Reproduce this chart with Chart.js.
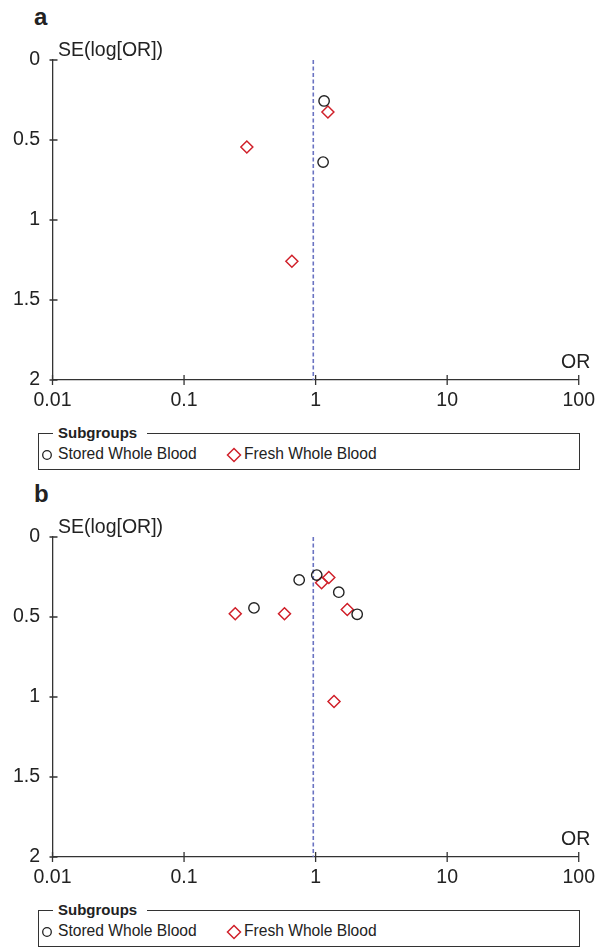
<!DOCTYPE html>
<html>
<head>
<meta charset="utf-8">
<script src="https://cdn.jsdelivr.net/npm/chart.js@4.4.1/dist/chart.umd.min.js"></script>
<style>
  html, body { margin: 0; padding: 0; background: #fff; }
  #wrap { position: relative; width: 604px; height: 948px; overflow: hidden; font-family: "Liberation Sans", Arial, sans-serif; color: #222; }
  canvas.cv { position: absolute; left: 0; }
  .plab { position: absolute; left: 34px; font-weight: bold; font-size: 24px; line-height: 24px; }
  .legend { position: absolute; left: 38px; width: 542px; height: 37px; border: 1.3px solid #333; box-sizing: border-box; }
  .legend .ttl { position: absolute; left: 14px; top: -10px; background: #fff; padding: 0 10px 0 5px; font-weight: bold; font-size: 15px; line-height: 18px; }
  .legend .item { position: absolute; top: 11px; font-size: 15.6px; line-height: 18px; white-space: nowrap; }
  .legend svg { position: absolute; }
</style>
</head>
<body>
<div id="wrap">
  <div class="plab" style="top:5px">a</div>
  <canvas id="cA" class="cv" width="604" height="420" style="top:0px"></canvas>
  <div class="legend" style="top:433px">
    <div class="ttl">Subgroups</div>
    <svg style="left:2px;top:15px" width="12" height="12"><circle cx="6" cy="6" r="4.3" fill="none" stroke="#222" stroke-width="1.3"/></svg>
    <div class="item" style="left:19px">Stored Whole Blood</div>
    <svg style="left:187px;top:13px" width="16" height="16"><polygon points="8,1.5 14.5,8 8,14.5 1.5,8" fill="none" stroke="#d0202a" stroke-width="1.5"/></svg>
    <div class="item" style="left:205px">Fresh Whole Blood</div>
  </div>
  <div class="plab" style="top:482px">b</div>
  <canvas id="cB" class="cv" width="604" height="420" style="top:477px"></canvas>
  <div class="legend" style="top:910px">
    <div class="ttl">Subgroups</div>
    <svg style="left:2px;top:15px" width="12" height="12"><circle cx="6" cy="6" r="4.3" fill="none" stroke="#222" stroke-width="1.3"/></svg>
    <div class="item" style="left:19px">Stored Whole Blood</div>
    <svg style="left:187px;top:13px" width="16" height="16"><polygon points="8,1.5 14.5,8 8,14.5 1.5,8" fill="none" stroke="#d0202a" stroke-width="1.5"/></svg>
    <div class="item" style="left:205px">Fresh Whole Blood</div>
  </div>
</div>
<script>
// ---- data ----
const xTicks = [0.01, 0.1, 1, 10, 100];
const yTicks = [0, 0.5, 1, 1.5, 2];
const seriesNames = ["Stored Whole Blood", "Fresh Whole Blood"];

// panel a
const orA_stored = [1.16, 1.14];
const seA_stored = [0.256, 0.638];
const orA_fresh  = [1.24, 0.30, 0.66];
const seA_fresh  = [0.325, 0.544, 1.258];
const pooledA = 0.96;

// panel b
const orB_stored = [0.75, 1.02, 1.50, 0.34, 2.07];
const seB_stored = [0.268, 0.238, 0.345, 0.443, 0.483];
const orB_fresh  = [1.26, 1.11, 0.245, 0.58, 1.74, 1.38];
const seB_fresh  = [0.253, 0.286, 0.480, 0.480, 0.453, 1.028];
const pooledB = 0.96;

const TXT = '#222';
const AX = '#333';
const FONT = '"Liberation Sans", Arial, sans-serif';

function pts(xs, ys) { return xs.map((x, i) => ({ x: x, y: ys[i] })); }

const axisPlugin = {
  id: 'axisExtras',
  afterDraw(chart) {
    const ctx = chart.ctx;
    const xs = chart.scales.x, ys = chart.scales.y;
    const a = chart.chartArea;
    ctx.save();
    ctx.strokeStyle = AX;
    ctx.lineWidth = 1.3;
    ctx.beginPath();
    xTicks.forEach(v => {
      const px = xs.getPixelForValue(v);
      ctx.moveTo(px, a.bottom - 5); ctx.lineTo(px, a.bottom + 5);
    });
    yTicks.forEach(v => {
      const py = ys.getPixelForValue(v);
      ctx.moveTo(a.left - 3, py); ctx.lineTo(a.left + 5, py);
    });
    ctx.stroke();
    ctx.fillStyle = TXT;
    ctx.font = '19.5px ' + FONT;
    ctx.textBaseline = 'alphabetic';
    ctx.textAlign = 'left';
    ctx.fillText('SE(log[OR])', a.left + 5.5, a.top - 4);
    ctx.textAlign = 'right';
    ctx.fillText('OR', a.right + 11.5, a.bottom - 12);
    ctx.restore();
  }
};

function makeChart(id, orS, seS, orF, seF, pooled) {
  return new Chart(document.getElementById(id), {
    type: 'scatter',
    data: {
      datasets: [
        {
          label: 'pooled',
          data: [{ x: pooled, y: 0 }, { x: pooled, y: 2 }],
          showLine: true,
          borderColor: '#6a73c2',
          borderWidth: 1.6,
          borderDash: [4, 2.5],
          pointRadius: 0,
          order: 3
        },
        {
          label: seriesNames[0],
          data: pts(orS, seS),
          pointStyle: 'circle',
          pointRadius: 5.2,
          borderColor: '#222',
          backgroundColor: 'rgba(0,0,0,0)',
          borderWidth: 1.4,
          order: 1
        },
        {
          label: seriesNames[1],
          data: pts(orF, seF),
          pointStyle: 'rectRot',
          pointRadius: 6,
          borderColor: '#d0202a',
          backgroundColor: 'rgba(0,0,0,0)',
          borderWidth: 1.5,
          order: 2
        }
      ]
    },
    options: {
      responsive: false,
      animation: false,
      events: [],
      layout: { padding: { top: 60, right: 23.7, left: 0, bottom: 0 } },
      plugins: { legend: { display: false }, tooltip: { enabled: false } },
      scales: {
        x: {
          type: 'logarithmic',
          min: 0.01, max: 100,
          grid: { display: false, drawTicks: false },
          border: { display: true, color: AX, width: 1.3 },
          afterBuildTicks(s) { s.ticks = xTicks.map(v => ({ value: v })); },
          afterFit(s) { s.height = 40; },
          ticks: {
            color: TXT,
            font: { family: FONT, size: 19.5 },
            padding: 9,
            maxRotation: 0,
            autoSkip: false,
            callback: v => String(v)
          }
        },
        y: {
          type: 'linear',
          reverse: true,
          min: 0, max: 2,
          grid: { display: false, drawTicks: false },
          border: { display: true, color: AX, width: 1.3 },
          afterBuildTicks(s) { s.ticks = yTicks.map(v => ({ value: v })); },
          afterFit(s) { s.width = 52.5; },
          ticks: {
            color: TXT,
            font: { family: FONT, size: 19.5 },
            padding: 12.5,
            callback: v => String(v)
          }
        }
      }
    },
    plugins: [axisPlugin]
  });
}

makeChart('cA', orA_stored, seA_stored, orA_fresh, seA_fresh, pooledA);
makeChart('cB', orB_stored, seB_stored, orB_fresh, seB_fresh, pooledB);
</script>
</body>
</html>
